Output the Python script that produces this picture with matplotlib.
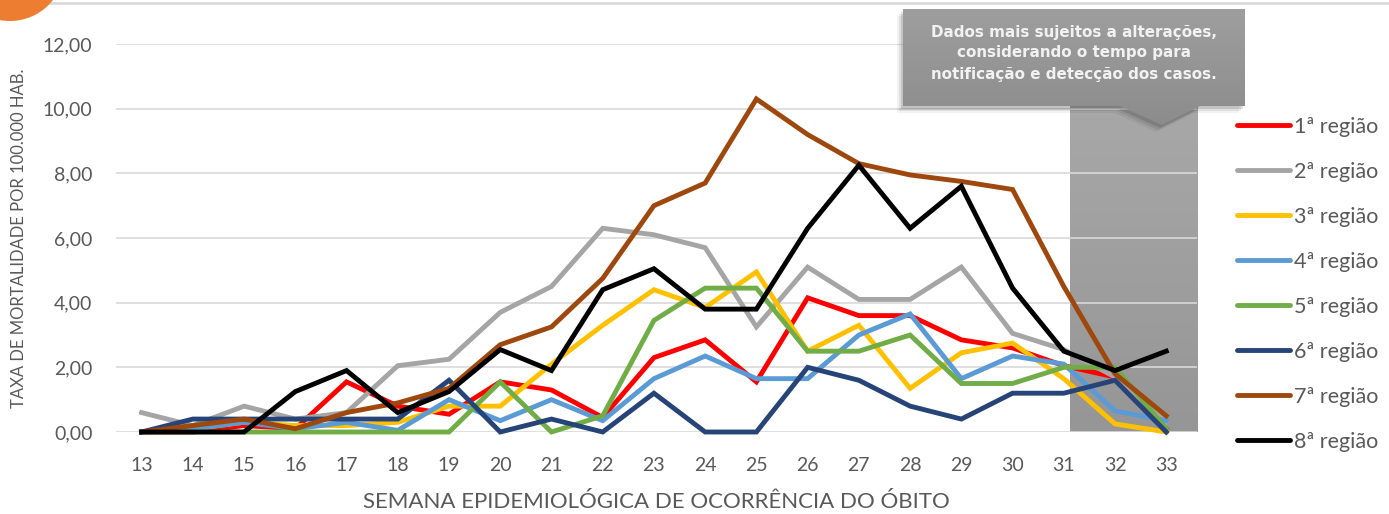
import numpy as np
import matplotlib.pyplot as plt
from matplotlib.patches import Polygon, Ellipse
from matplotlib.colors import LinearSegmentedColormap
from matplotlib.ticker import FuncFormatter


W, H = 1389, 514

weeks = list(range(13, 34))

regiao_1 = [0, 0, 0.2, 0.1, 1.55, 0.8, 0.55, 1.55, 1.3, 0.45, 2.3, 2.85, 1.55, 4.15, 3.6, 3.6, 2.85, 2.6, 2.05, 1.7, 0.1]
regiao_2 = [0.6, 0.2, 0.8, 0.4, 0.6, 2.05, 2.25, 3.7, 4.5, 6.3, 6.1, 5.7, 3.25, 5.1, 4.1, 4.1, 5.1, 3.05, 2.55, 1.7, 0.3]
regiao_3 = [0, 0.1, 0.3, 0.2, 0.2, 0.3, 0.8, 0.8, 2.1, 3.3, 4.4, 3.85, 4.95, 2.5, 3.3, 1.35, 2.45, 2.75, 1.65, 0.25, 0]
regiao_4 = [0, 0.1, 0.3, 0.1, 0.3, 0.05, 1.0, 0.35, 1.0, 0.35, 1.65, 2.35, 1.65, 1.65, 3.0, 3.65, 1.65, 2.35, 2.1, 0.65, 0.35]
regiao_5 = [0, 0, 0, 0, 0, 0, 0, 1.55, 0, 0.5, 3.45, 4.45, 4.45, 2.5, 2.5, 3.0, 1.5, 1.5, 2.0, 2.0, 0.1]
regiao_6 = [0, 0.4, 0.4, 0.4, 0.4, 0.4, 1.6, 0, 0.4, 0, 1.2, 0, 0, 2.0, 1.6, 0.8, 0.4, 1.2, 1.2, 1.6, 0]
regiao_7 = [0, 0.2, 0.4, 0.1, 0.6, 0.9, 1.35, 2.7, 3.25, 4.75, 7.0, 7.7, 10.3, 9.2, 8.3, 7.95, 7.75, 7.5, 4.5, 1.8, 0.5]
regiao_8 = [0, 0, 0, 1.25, 1.9, 0.6, 1.25, 2.55, 1.9, 4.4, 5.05, 3.8, 3.8, 6.3, 8.25, 6.3, 7.6, 4.45, 2.5, 1.9, 2.5]

series = [regiao_1, regiao_2, regiao_3, regiao_4, regiao_5, regiao_6, regiao_7, regiao_8]
labels = ["1ª região", "2ª região", "3ª região", "4ª região",
          "5ª região", "6ª região", "7ª região", "8ª região"]
colors = ["#FF0000", "#A5A5A5", "#FFC000", "#5B9BD5",
          "#70AD47", "#264478", "#9E480E", "#000000"]

# weeks still subject to change (shaded band)
shade_start, shade_end, shade_top = 31.12, 33.6, 10.3

note = "Dados mais sujeitos a alterações,\nconsiderando o tempo para\nnotificação e detecção dos casos."

TXT = "#595959"

plt.rcParams['font.family'] = ['Lato', 'DejaVu Sans']


fig = plt.figure(figsize=(W / 100, H / 100), dpi=100)

ax = fig.add_axes([116 / W, 1 - 432 / H, (1197 - 116) / W, (432 - 44) / H])

# --------------------------
# shaded band (gradient)
# --------------------------

grad = np.linspace(0, 1, 100).reshape(-1, 1)
ax.imshow(grad, cmap=LinearSegmentedColormap.from_list("g", ["#969696", "#A8A8A8"]),
          extent=[shade_start, shade_end, 0, shade_top],
          origin="lower", aspect="auto", zorder=0.2)

# --------------------------
# lines
# --------------------------

for vals, lab, col in zip(series, labels, colors):
    ax.plot(weeks, vals, color=col, lw=3.5, label=lab,
            solid_joinstyle="miter", clip_on=False, zorder=3)

ax.set_xlim(12.5, 33.6)
ax.set_ylim(0, 12)
ax.set_xticks(weeks)
ax.set_yticks(np.arange(0, 13, 2))
ax.yaxis.set_major_formatter(FuncFormatter(lambda v, p: f"{v:.2f}".replace(".", ",")))

ax.set_axisbelow(True)
ax.yaxis.grid(True, color="#D9D9D9", lw=1.2)

for s in ax.spines.values():
    s.set_visible(False)

ax.tick_params(axis="both", length=0, labelsize=14, labelcolor=TXT)
ax.tick_params(axis="x", pad=18)
ax.tick_params(axis="y", pad=17)

ax.set_xlabel("SEMANA EPIDEMIOLÓGICA DE OCORRÊNCIA DO ÓBITO",
              fontsize=16, color=TXT, labelpad=13)
ax.set_ylabel("TAXA DE MORTALIDADE POR 100.000 HAB.",
              fontsize=12, color=TXT, labelpad=11)

leg = ax.legend(loc="upper left", bbox_to_anchor=(1237 / W, 1 - 117 / H),
                bbox_transform=fig.transFigure, frameon=False,
                fontsize=15.5, labelspacing=1.16, handlelength=2.45,
                handletextpad=0.22, borderpad=0, borderaxespad=0)
for t in leg.get_texts():
    t.set_color(TXT)
for h in leg.get_lines():
    h.set_solid_capstyle("round")

# --------------------------
# overlay in pixel coords: callout and slide decorations
# --------------------------

ov = fig.add_axes([0, 0, 1, 1])
ov.set_xlim(0, W)
ov.set_ylim(H, 0)
ov.axis("off")

pts = [(903, 9), (1245, 9), (1245, 106), (1200, 106),
       (1162, 125), (1120, 106), (903, 106)]

# soft shadow
for k, a in [(6, 0.05), (4, 0.08), (2, 0.12)]:
    ov.add_patch(Polygon([(x - k, y + k + 1) for x, y in pts], closed=True,
                         facecolor="#000000", alpha=a, edgecolor="none", zorder=4))

box = Polygon(pts, closed=True, facecolor="none", edgecolor="none", zorder=5)
ov.add_patch(box)
img = ov.imshow(np.linspace(0, 1, 100).reshape(-1, 1),
                cmap=LinearSegmentedColormap.from_list("c", ["#9E9E9E", "#8C8C8C"]),
                extent=[903, 1245, 125, 9], aspect="auto", zorder=5)
img.set_clip_path(box)
ov.set_xlim(0, W)
ov.set_ylim(H, 0)

ov.text(1074, 53, note, ha="center", va="center", color="#F2F2F2",
        fontsize=10.9, fontweight="bold", family="DejaVu Sans",
        linespacing=1.5, zorder=7)

ov.plot([50, W], [3, 3], color="#D9D9D9", lw=2)
ov.add_patch(Ellipse((10, -33.5), 109, 109, facecolor="#ED7D31",
                     edgecolor="none", zorder=8))

fig.savefig("out.png", dpi=100)
